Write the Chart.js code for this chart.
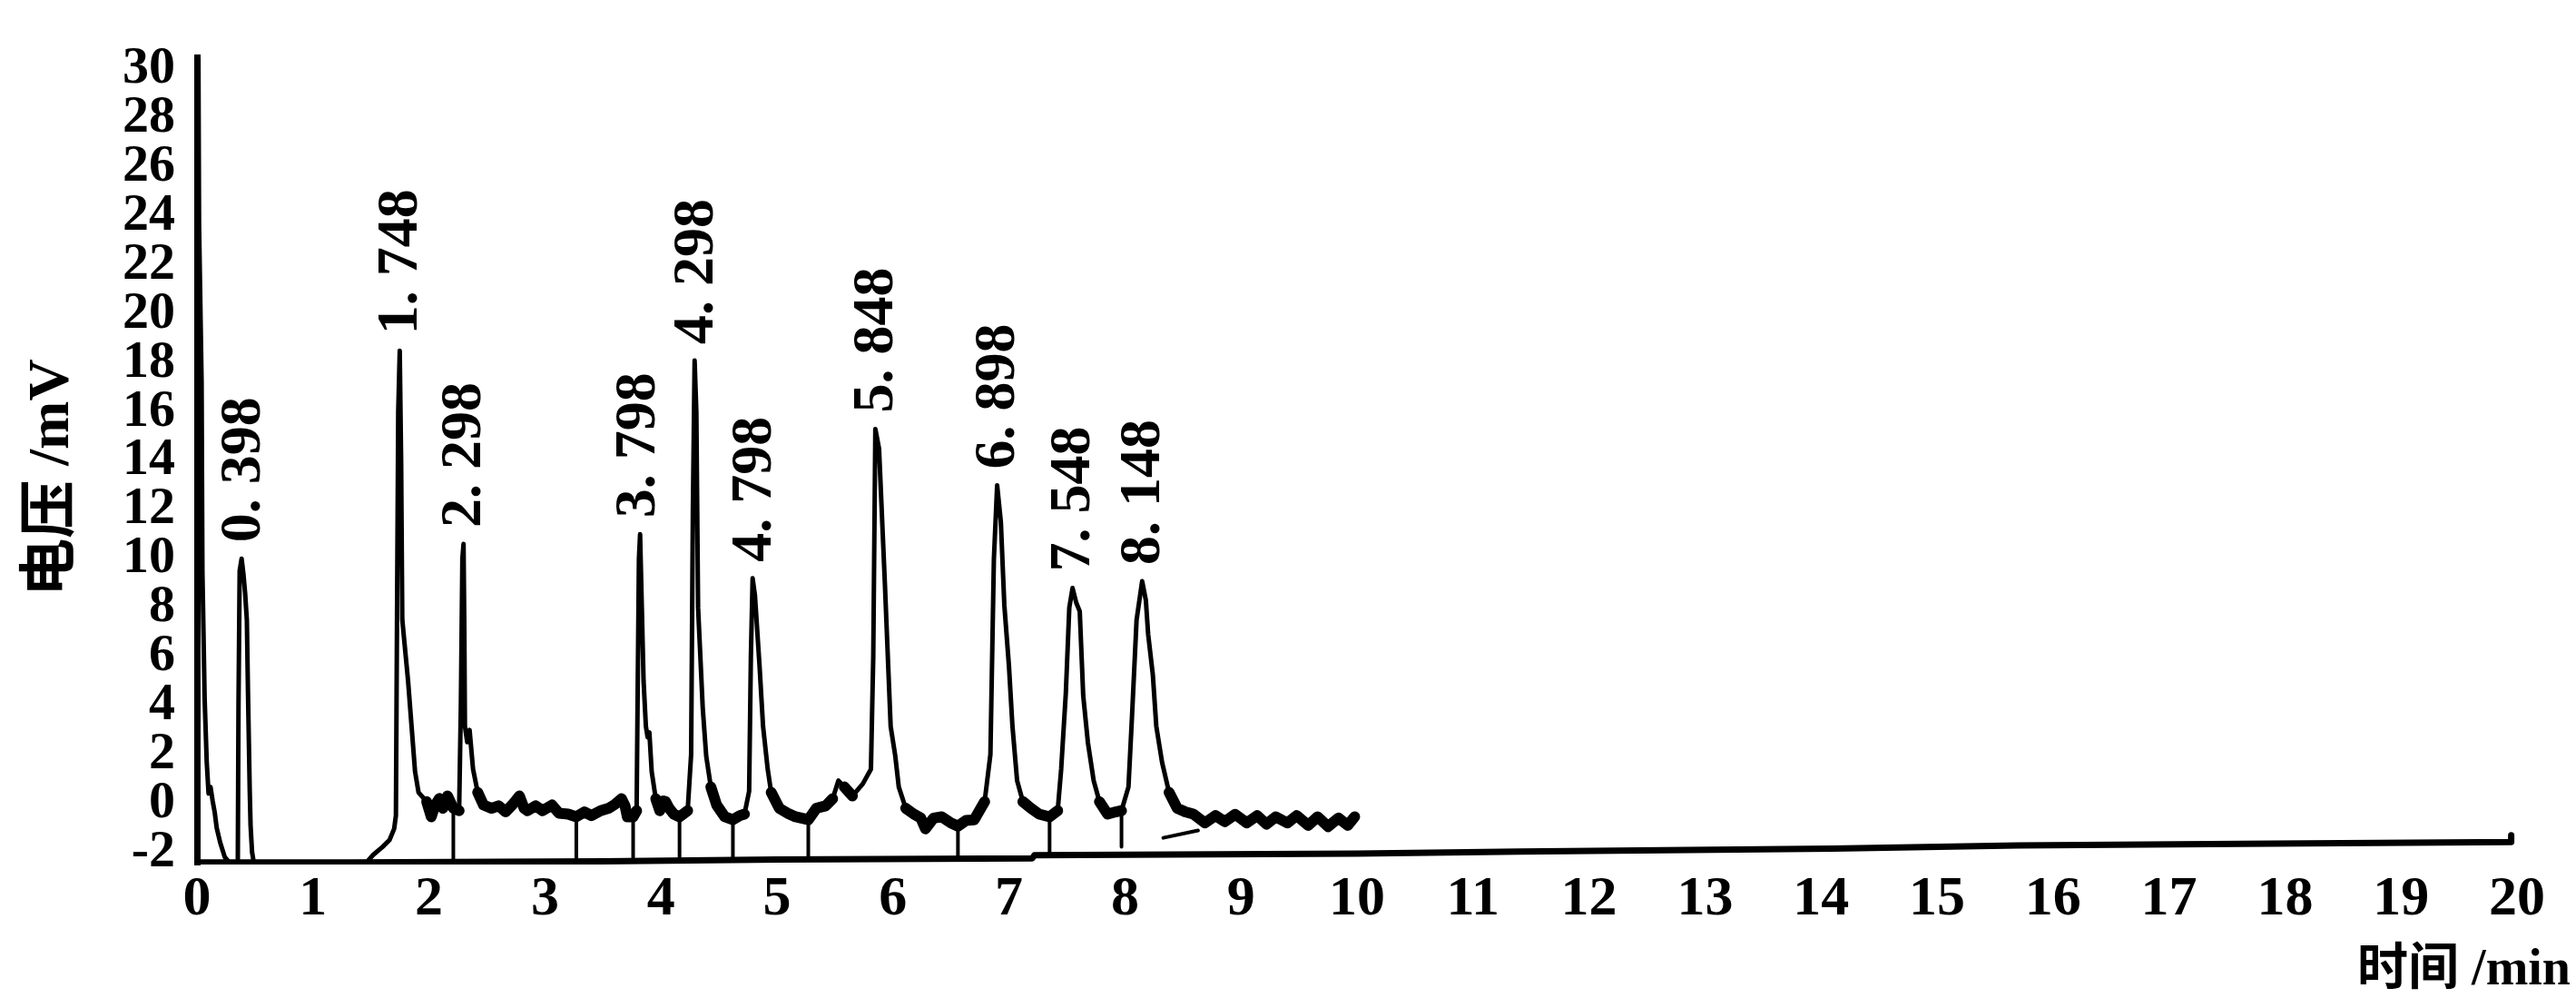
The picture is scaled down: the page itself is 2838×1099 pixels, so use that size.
<!DOCTYPE html>
<html>
<head>
<meta charset="utf-8">
<script src="https://cdn.jsdelivr.net/npm/chart.js@4.4.1/dist/chart.umd.min.js"></script>
<style>
  html,body{margin:0;padding:0;background:#fff}
  #box{width:2838px;height:1099px;position:relative}
</style>
</head>
<body>
<div id="box"><canvas id="chart"></canvas></div>
<script>
/* global Chart */
const $ = q => document.querySelector(q);

/* ---------- 数据 ---------- */
const xTicks = [0,1,2,3,4,5,6,7,8,9,10,11,12,13,14,15,16,17,18,19,20];
const yTicks = [-2,0,2,4,6,8,10,12,14,16,18,20,22,24,26,28,30];

// 色谱信号 时间 /min
const traceTimes = [
  0.000,0.004,0.012,0.018,0.040,0.047,0.066,0.084,0.100,0.117,0.135,0.153,0.170,0.200,0.240,0.280,
  0.352,0.358,0.368,0.385,0.400,0.415,0.430,0.440,0.455,0.462,0.475,0.490,
  1.460,1.520,1.600,1.660,1.700,1.715,1.725,1.735,1.748,1.760,1.770,1.820,1.850,1.880,1.910,1.980,
  2.020,2.050,2.090,2.120,2.160,2.210,2.260,2.275,2.288,2.298,2.305,2.310,2.330,2.350,2.380,2.420,
  2.470,2.540,2.600,2.660,2.720,2.780,2.820,2.850,2.920,2.980,3.060,3.120,3.200,3.270,3.340,3.400,
  3.480,3.550,3.600,3.660,3.690,3.710,3.760,3.790,3.800,3.810,3.820,3.835,3.850,3.870,3.885,3.900,
  3.920,3.955,3.990,4.020,4.040,4.070,4.110,4.160,4.230,4.260,4.275,4.290,4.305,4.320,4.360,4.390,
  4.430,4.480,4.550,4.620,4.680,4.720,4.760,4.775,4.790,4.810,4.850,4.880,4.920,4.950,5.020,5.090,
  5.160,5.270,5.340,5.420,5.480,5.530,5.580,5.650,5.740,5.810,5.830,5.848,5.880,5.930,5.980,6.020,
  6.050,6.110,6.180,6.240,6.280,6.350,6.420,6.500,6.560,6.630,6.700,6.790,6.840,6.870,6.898,6.930,
  6.960,7.000,7.030,7.070,7.120,7.190,7.260,7.350,7.420,7.450,7.490,7.520,7.548,7.580,7.610,7.640,
  7.680,7.730,7.780,7.850,7.920,7.970,8.030,8.060,8.100,8.148,8.180,8.200,8.240,8.270,8.320,8.380,
  8.450,8.520,8.590,8.690,8.780,8.860,8.950,9.050,9.140,9.220,9.300,9.400,9.480,9.580,9.660,9.750,
  9.840,9.920,9.980
];
// 电压 /mV
const traceVolts = [
  -2.42,31.0,31.0,23.7,17.2,9.5,4.3,1.7,0.4,0.67,0.1,-0.37,-1.0,-1.6,-2.2,-2.42,
  -2.42,4.0,9.5,10.0,9.4,8.6,7.5,4.5,0.5,-0.9,-2.0,-2.42,
  -2.42,-2.1,-1.78,-1.5,-1.04,-0.5,8.0,16.0,18.5,14.0,7.5,5.0,3.15,1.3,0.45,0.07,
  -0.55,-0.1,0.2,-0.2,0.3,-0.2,-0.3,4.0,10.0,10.6,7.0,3.15,2.5,3.0,1.4,0.45,
  -0.07,-0.2,-0.1,-0.35,-0.05,0.3,-0.2,-0.3,-0.1,-0.3,-0.07,-0.4,-0.44,-0.55,-0.35,-0.5,
  -0.3,-0.2,-0.05,0.19,-0.1,-0.55,-0.55,-0.3,5.0,10.0,11.0,8.0,5.0,3.15,2.7,2.9,
  1.3,0.19,-0.3,0.1,0.07,-0.2,-0.44,-0.55,-0.3,2.0,12.0,18.1,16.0,8.0,3.9,1.93,
  0.67,-0.07,-0.55,-0.67,-0.5,-0.44,0.5,6.0,9.2,8.5,5.6,3.15,1.4,0.45,-0.2,-0.4,
  -0.55,-0.67,-0.2,-0.1,0.19,0.93,0.67,0.3,0.8,1.4,6.0,15.3,14.5,9.0,3.15,1.93,
  0.67,-0.2,-0.44,-0.6,-1.04,-0.6,-0.55,-0.8,-0.93,-0.7,-0.67,0.07,2.0,10.0,13.0,11.5,
  8.1,5.6,3.15,0.93,0.07,-0.2,-0.44,-0.55,-0.3,1.4,4.5,8.0,8.8,8.2,7.85,4.4,
  2.5,0.93,0.07,-0.44,-0.35,-0.3,0.67,3.5,7.5,9.08,8.3,6.9,5.26,3.15,1.67,0.45,
  -0.2,-0.35,-0.44,-0.8,-0.5,-0.75,-0.45,-0.8,-0.5,-0.85,-0.55,-0.8,-0.5,-0.9,-0.55,-0.95,
  -0.6,-0.9,-0.55
];

// 底线 (图下方的粗线)
const floorTimes = [0, 1.3, 3.5, 5.0, 7.2, 7.22, 10.0, 11.4, 14.1, 15.7, 17.9, 19.95, 19.95];
const floorVolts = [-2.42, -2.42, -2.37, -2.3, -2.25, -2.12, -2.05, -1.97, -1.85, -1.72, -1.65, -1.58, -1.3];

// 积分分割线
const dropTimes = [2.21, 3.27, 3.76, 4.16, 4.62, 5.27, 6.56, 7.35, 7.97];
const dropTops  = [-0.2, -0.55, -0.55, -0.55, -0.67, -0.67, -0.93, -0.55, -0.3];
const dropEnds  = [-2.40, -2.37, -2.36, -2.35, -2.33, -2.30, -2.25, -2.12, -1.78];

// 8.3 min 附近的斜线
const slantTimes = [8.33, 8.63];
const slantVolts = [-1.41, -1.11];

// 峰标注
const peakTimes   = [0.398, 1.748, 2.298, 3.798, 4.298, 4.798, 5.848, 6.898, 7.548, 8.148];
const peakHeights = [10.0, 18.5, 10.6, 11.0, 18.1, 9.2, 15.3, 13.0, 8.8, 9.08];
const peakText    = ['0. 398','1. 748','2. 298','3. 798','4. 298','4. 798','5. 848','6. 898','7. 548','8. 148'];

/* ---------- 小工具 ---------- */
const SERIF = '"Liberation Serif", "Noto Sans CJK SC", serif';
const pts = (xs, ys) => xs.map((x, i) => ({ x, y: ys[i] }));

const dropData = [];
dropTimes.forEach((t, i) => {
  dropData.push({ x: t, y: dropTops[i] }, { x: t, y: dropEnds[i] }, { x: t, y: null });
});

// 基线噪声段画粗一点 (只在 1.95 min 之后)
function segWidth(ctx){
  const a = ctx.p0.parsed.y, b = ctx.p1.parsed.y;
  if (ctx.p0.parsed.x < 1.95) return 5;
  const flat = Math.abs(b - a) < 0.8 && a > -1.2 && b > -1.2 && a < 0.8 && b < 0.8;
  return flat ? 12 : 5;
}

/* ---------- 插件: 峰标注 + 轴标题 ---------- */
const peakLabels = {
  id: 'peakLabels',
  afterDatasetsDraw(chart){
    const { ctx, scales: { x, y } } = chart;
    ctx.save();
    ctx.fillStyle = '#000';
    ctx.font = `bold 64px ${SERIF}`;
    ctx.textAlign = 'left';
    ctx.textBaseline = 'middle';
    peakTimes.forEach((t, i) => {
      ctx.save();
      ctx.translate(x.getPixelForValue(t) + 2, y.getPixelForValue(peakHeights[i]) - 18);
      ctx.rotate(-Math.PI / 2);
      ctx.fillText(peakText[i], 0, 0);
      ctx.restore();
    });
    ctx.restore();
  }
};

const axisTitles = {
  id: 'axisTitles',
  afterDraw(chart){
    const { ctx } = chart;
    ctx.save();
    ctx.fillStyle = '#000';
    ctx.font = `bold 64px ${SERIF}`;
    ctx.textAlign = 'center';
    ctx.textBaseline = 'middle';
    ctx.translate(58, 526);
    ctx.rotate(-Math.PI / 2);
    ctx.fillText('电压 /mV', 0, 0);
    ctx.restore();

    ctx.save();
    ctx.fillStyle = '#000';
    ctx.font = `bold 56px ${SERIF}`;
    ctx.textAlign = 'right';
    ctx.textBaseline = 'middle';
    ctx.fillText('时间 /min', 2832, 1070);
    ctx.restore();
  }
};

/* ---------- 图表 ---------- */
const lineBase = { pointRadius: 0, tension: 0, borderColor: '#000', borderJoinStyle: 'round', borderCapStyle: 'round', fill: false };

new Chart($('#chart').getContext('2d'), {
  type: 'line',
  data: {
    datasets: [
      { ...lineBase, label: 'floor', data: pts(floorTimes, floorVolts), borderWidth: 7 },
      { ...lineBase, label: 'drops', data: dropData, borderWidth: 4, spanGaps: false },
      { ...lineBase, label: 'slant', data: pts(slantTimes, slantVolts), borderWidth: 4 },
      { ...lineBase, label: 'signal', data: pts(traceTimes, traceVolts), borderWidth: 5,
        segment: { borderWidth: segWidth } }
    ]
  },
  options: {
    responsive: true,
    maintainAspectRatio: false,
    devicePixelRatio: 1,
    animation: false,
    layout: { padding: { top: 63, right: 65, bottom: 0, left: 0 } },
    plugins: { legend: { display: false }, tooltip: { enabled: false } },
    scales: {
      x: {
        type: 'linear', min: 0, max: 20,
        grid: { display: false, drawTicks: false },
        border: { display: false },
        afterBuildTicks: axis => { axis.ticks = xTicks.map(v => ({ value: v })); },
        afterFit: s => { s.height = 147; },
        ticks: { color: '#000', padding: 2, maxRotation: 0, autoSkip: false,
                 font: { family: SERIF, size: 62, weight: 'bold' } }
      },
      y: {
        type: 'linear', min: -2.5, max: 30.5,
        grid: { display: false, drawTicks: false },
        border: { display: true, color: '#000', width: 7 },
        afterBuildTicks: axis => { axis.ticks = yTicks.map(v => ({ value: v })); },
        afterFit: s => { s.width = 217; },
        ticks: { color: '#000', padding: 24, autoSkip: false,
                 font: { family: SERIF, size: 58, weight: 'bold' } }
      }
    }
  },
  plugins: [peakLabels, axisTitles]
});
</script>
</body>
</html>
